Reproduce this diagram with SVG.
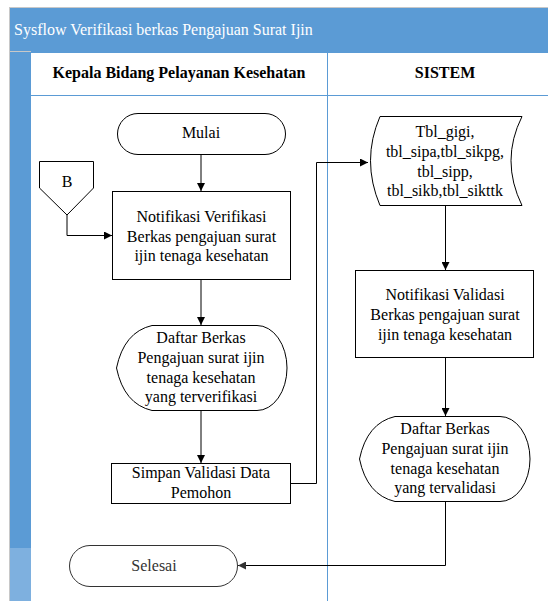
<svg xmlns="http://www.w3.org/2000/svg" width="548" height="601" viewBox="0 0 548 601">
  <defs>
    <marker id="arrow" viewBox="0 0 10 10" refX="10" refY="5" markerWidth="8" markerHeight="8" markerUnits="userSpaceOnUse" orient="auto">
      <path d="M0,0 L10,5 L0,10 Z" fill="#000"/>
    </marker>
    <marker id="arrowGray" viewBox="0 0 10 10" refX="10" refY="5" markerWidth="8" markerHeight="8" markerUnits="userSpaceOnUse" orient="auto">
      <path d="M0,0 L10,5 L0,10 Z" fill="#333"/>
    </marker>
  </defs>
  <style>
    text { font-family: "Liberation Serif", "Times New Roman", Times, Tinos, "Noto Serif", "DejaVu Serif", FreeSerif, serif; font-size: 16px; fill: #000; }
    .title { fill: #ffffff; }
    .head { font-weight: bold; text-anchor: middle; }
    .lbl { text-anchor: middle; }
    .muted { fill: #333; }
    .shape { fill: #ffffff; stroke: #000; stroke-width: 1; }
    .end { fill: #ffffff; stroke: #333; stroke-width: 1; }
    .conn { fill: none; stroke: #000; stroke-width: 1; }
    .lane { stroke: #5b9bd5; stroke-width: 1; fill: none; }
  </style>

  <rect x="0" y="0" width="548" height="601" fill="#ffffff"/>

  <!-- swimlane frame -->
  <g id="frame">
    <rect x="9.5" y="7.5" width="545" height="600" fill="#ffffff" stroke="#c8c8c8" stroke-width="1"/>
    <rect x="10" y="8" width="538" height="45" fill="#5b9bd5"/>
    <text class="title" x="14" y="35">Sysflow Verifikasi berkas Pengajuan Surat Ijin</text>
    <rect x="10" y="53" width="21" height="495" fill="#5b9bd5"/>
    <rect x="10" y="548" width="21" height="53" fill="#7eb0df"/>
    <line x1="10" y1="51.5" x2="31" y2="51.5" stroke="#c8c8c8" stroke-width="1"/>
    <line class="lane" x1="31" y1="95.5" x2="548" y2="95.5"/>
    <line class="lane" x1="327.5" y1="53" x2="327.5" y2="601"/>
    <text class="head" x="179" y="78">Kepala Bidang Pelayanan Kesehatan</text>
    <text class="head" x="445" y="78">SISTEM</text>
  </g>

  <!-- connectors -->
  <g id="connectors">
    <path class="conn" d="M201,154 L201,191" marker-end="url(#arrow)"/>
    <path class="conn" d="M67,215 L67,235.5 L112,235.5" marker-end="url(#arrow)"/>
    <path class="conn" d="M201,280 L201,325" marker-end="url(#arrow)"/>
    <path class="conn" d="M201,410 L201,463" marker-end="url(#arrow)"/>
    <path class="conn" d="M291,483.5 L316.5,483.5 L316.5,162.5 L368,162.5" marker-end="url(#arrow)"/>
    <path class="conn" d="M445.5,205 L445.5,270" marker-end="url(#arrow)"/>
    <path class="conn" d="M445.5,357 L445.5,416" marker-end="url(#arrow)"/>
    <path class="conn" d="M445.5,501 L445.5,565.5 L238,565.5" stroke="#333" marker-end="url(#arrowGray)"/>
  </g>

  <!-- start -->
  <g id="mulai">
    <rect class="shape" x="117.5" y="113.5" width="168" height="41" rx="20.5" ry="20.5"/>
    <text class="lbl" x="201" y="138">Mulai</text>
  </g>

  <!-- off-page connector B -->
  <g id="connector-b">
    <polygon class="shape" points="39.5,161.5 93.5,161.5 93.5,188 67,215 39.5,188"/>
    <text class="lbl" x="67" y="187">B</text>
  </g>

  <g id="notifikasi-verifikasi">
    <rect class="shape" x="112.5" y="191.5" width="178" height="88"/>
    <text class="lbl" x="201.5" y="222">Notifikasi Verifikasi</text>
    <text class="lbl" x="201.5" y="242">Berkas pengajuan surat</text>
    <text class="lbl" x="201.5" y="261">ijin tenaga kesehatan</text>
  </g>

  <g id="daftar-terverifikasi">
    <path class="shape" d="M152,325.5 L257,325.5 A30,42.5 0 0 1 257,410.5 L152,410.5 Q124,404 116.5,368 Q124,332 152,325.5 Z"/>
    <text class="lbl" x="201" y="343">Daftar Berkas</text>
    <text class="lbl" x="201" y="363">Pengajuan surat ijin</text>
    <text class="lbl" x="201" y="383">tenaga kesehatan</text>
    <text class="lbl" x="201" y="402">yang terverifikasi</text>
  </g>

  <g id="simpan-validasi">
    <rect class="shape" x="111.5" y="463.5" width="179" height="40"/>
    <text class="lbl" x="201" y="478">Simpan Validasi Data</text>
    <text class="lbl" x="201" y="498">Pemohon</text>
  </g>

  <g id="selesai">
    <rect class="end" x="69.5" y="545.5" width="168" height="41" rx="20.5" ry="20.5"/>
    <text class="lbl muted" x="154" y="571">Selesai</text>
  </g>

  <!-- stored data -->
  <g id="tabel-data">
    <path class="shape" d="M380,116.5 L522,116.5 Q500,160.5 522,205.5 L380,205.5 Q361,160.5 380,116.5 Z"/>
    <text class="lbl" x="445" y="137">Tbl_gigi,</text>
    <text class="lbl" x="445" y="157">tbl_sipa,tbl_sikpg,</text>
    <text class="lbl" x="445" y="177">tbl_sipp,</text>
    <text class="lbl" x="445" y="196">tbl_sikb,tbl_sikttk</text>
  </g>

  <g id="notifikasi-validasi">
    <rect class="shape" x="355.5" y="270.5" width="178" height="87"/>
    <text class="lbl" x="445" y="300">Notifikasi Validasi</text>
    <text class="lbl" x="445" y="320">Berkas pengajuan surat</text>
    <text class="lbl" x="445" y="340">ijin tenaga kesehatan</text>
  </g>

  <g id="daftar-tervalidasi">
    <path class="shape" d="M395,416.5 L500,416.5 A30,42.5 0 0 1 500,501.5 L395,501.5 Q367,495 359.5,459 Q367,423 395,416.5 Z"/>
    <text class="lbl" x="445" y="434">Daftar Berkas</text>
    <text class="lbl" x="445" y="454">Pengajuan surat ijin</text>
    <text class="lbl" x="445" y="474">tenaga kesehatan</text>
    <text class="lbl" x="445" y="493">yang tervalidasi</text>
  </g>
</svg>
